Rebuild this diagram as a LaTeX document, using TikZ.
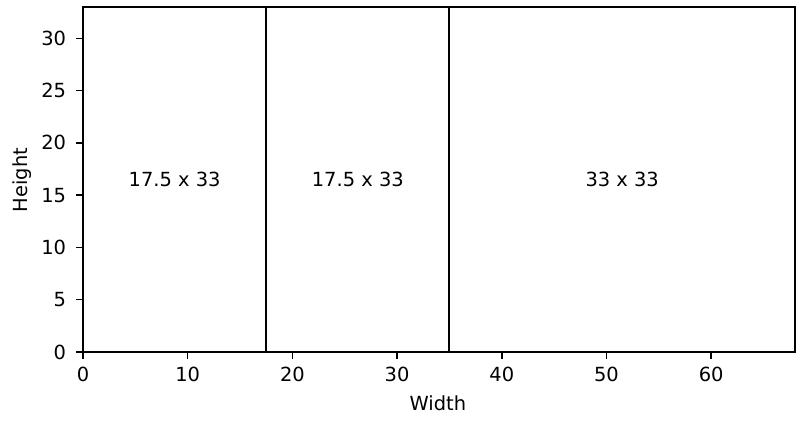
\documentclass[tikz,border=0pt]{standalone}
\usepackage{fontspec}
\setmainfont{DejaVu Sans}
\usetikzlibrary{positioning}
\tikzstyle{box} = [draw=black, line width=1.4pt]
\tikzstyle{axis} = [draw=black, line width=1.1pt]
\tikzstyle{tick} = [draw=black, line width=1.1pt]
\tikzstyle{ticklabel} = [font=\fontsize{14}{16}\selectfont, inner sep=0pt]
\tikzstyle{dims} = [font=\fontsize{14}{16}\selectfont, inner sep=0pt]

\begin{document}
\begin{tikzpicture}[x=7.539pt, y=7.527pt]
   \useasboundingbox (-7.927,-7.269) rectangle (69.25,33.67);
   \fill[white] (-7.927,-7.269) rectangle (69.25,33.67);
   % pieces
   \draw [box] (0,0) rectangle (17.5,33);
   \draw [box] (17.5,0) rectangle (35,33);
   \draw [box] (35,0) rectangle (68,33);
   \node (p1) [dims] at (8.75,16.5) {17.5 x 33};
   \node (p2) [dims] at (26.25,16.5) {17.5 x 33};
   \node (p3) [dims] at (51.5,16.5) {33 x 33};
   % axes
   \draw [axis] (0,0) rectangle (68,33);
   \foreach \x in {0,10,...,60} {
      \draw [tick] (\x,0) -- ++(0,-5pt);
      \node (x\x) [ticklabel, anchor=north] at ([yshift=-11pt]\x,0) {\x};
   }
   \foreach \y in {0,5,...,30} {
      \draw [tick] (0,\y) -- ++(-5pt,0);
      \node (y\y) [ticklabel, anchor=east] at ([xshift=-12pt]0,\y) {\y};
   }
   \node (xl) [ticklabel] at (33.9,-4.88) {Width};
   \node (yl) [ticklabel, rotate=90] at (-5.83,16.45) {Height};
\end{tikzpicture}
\end{document}
